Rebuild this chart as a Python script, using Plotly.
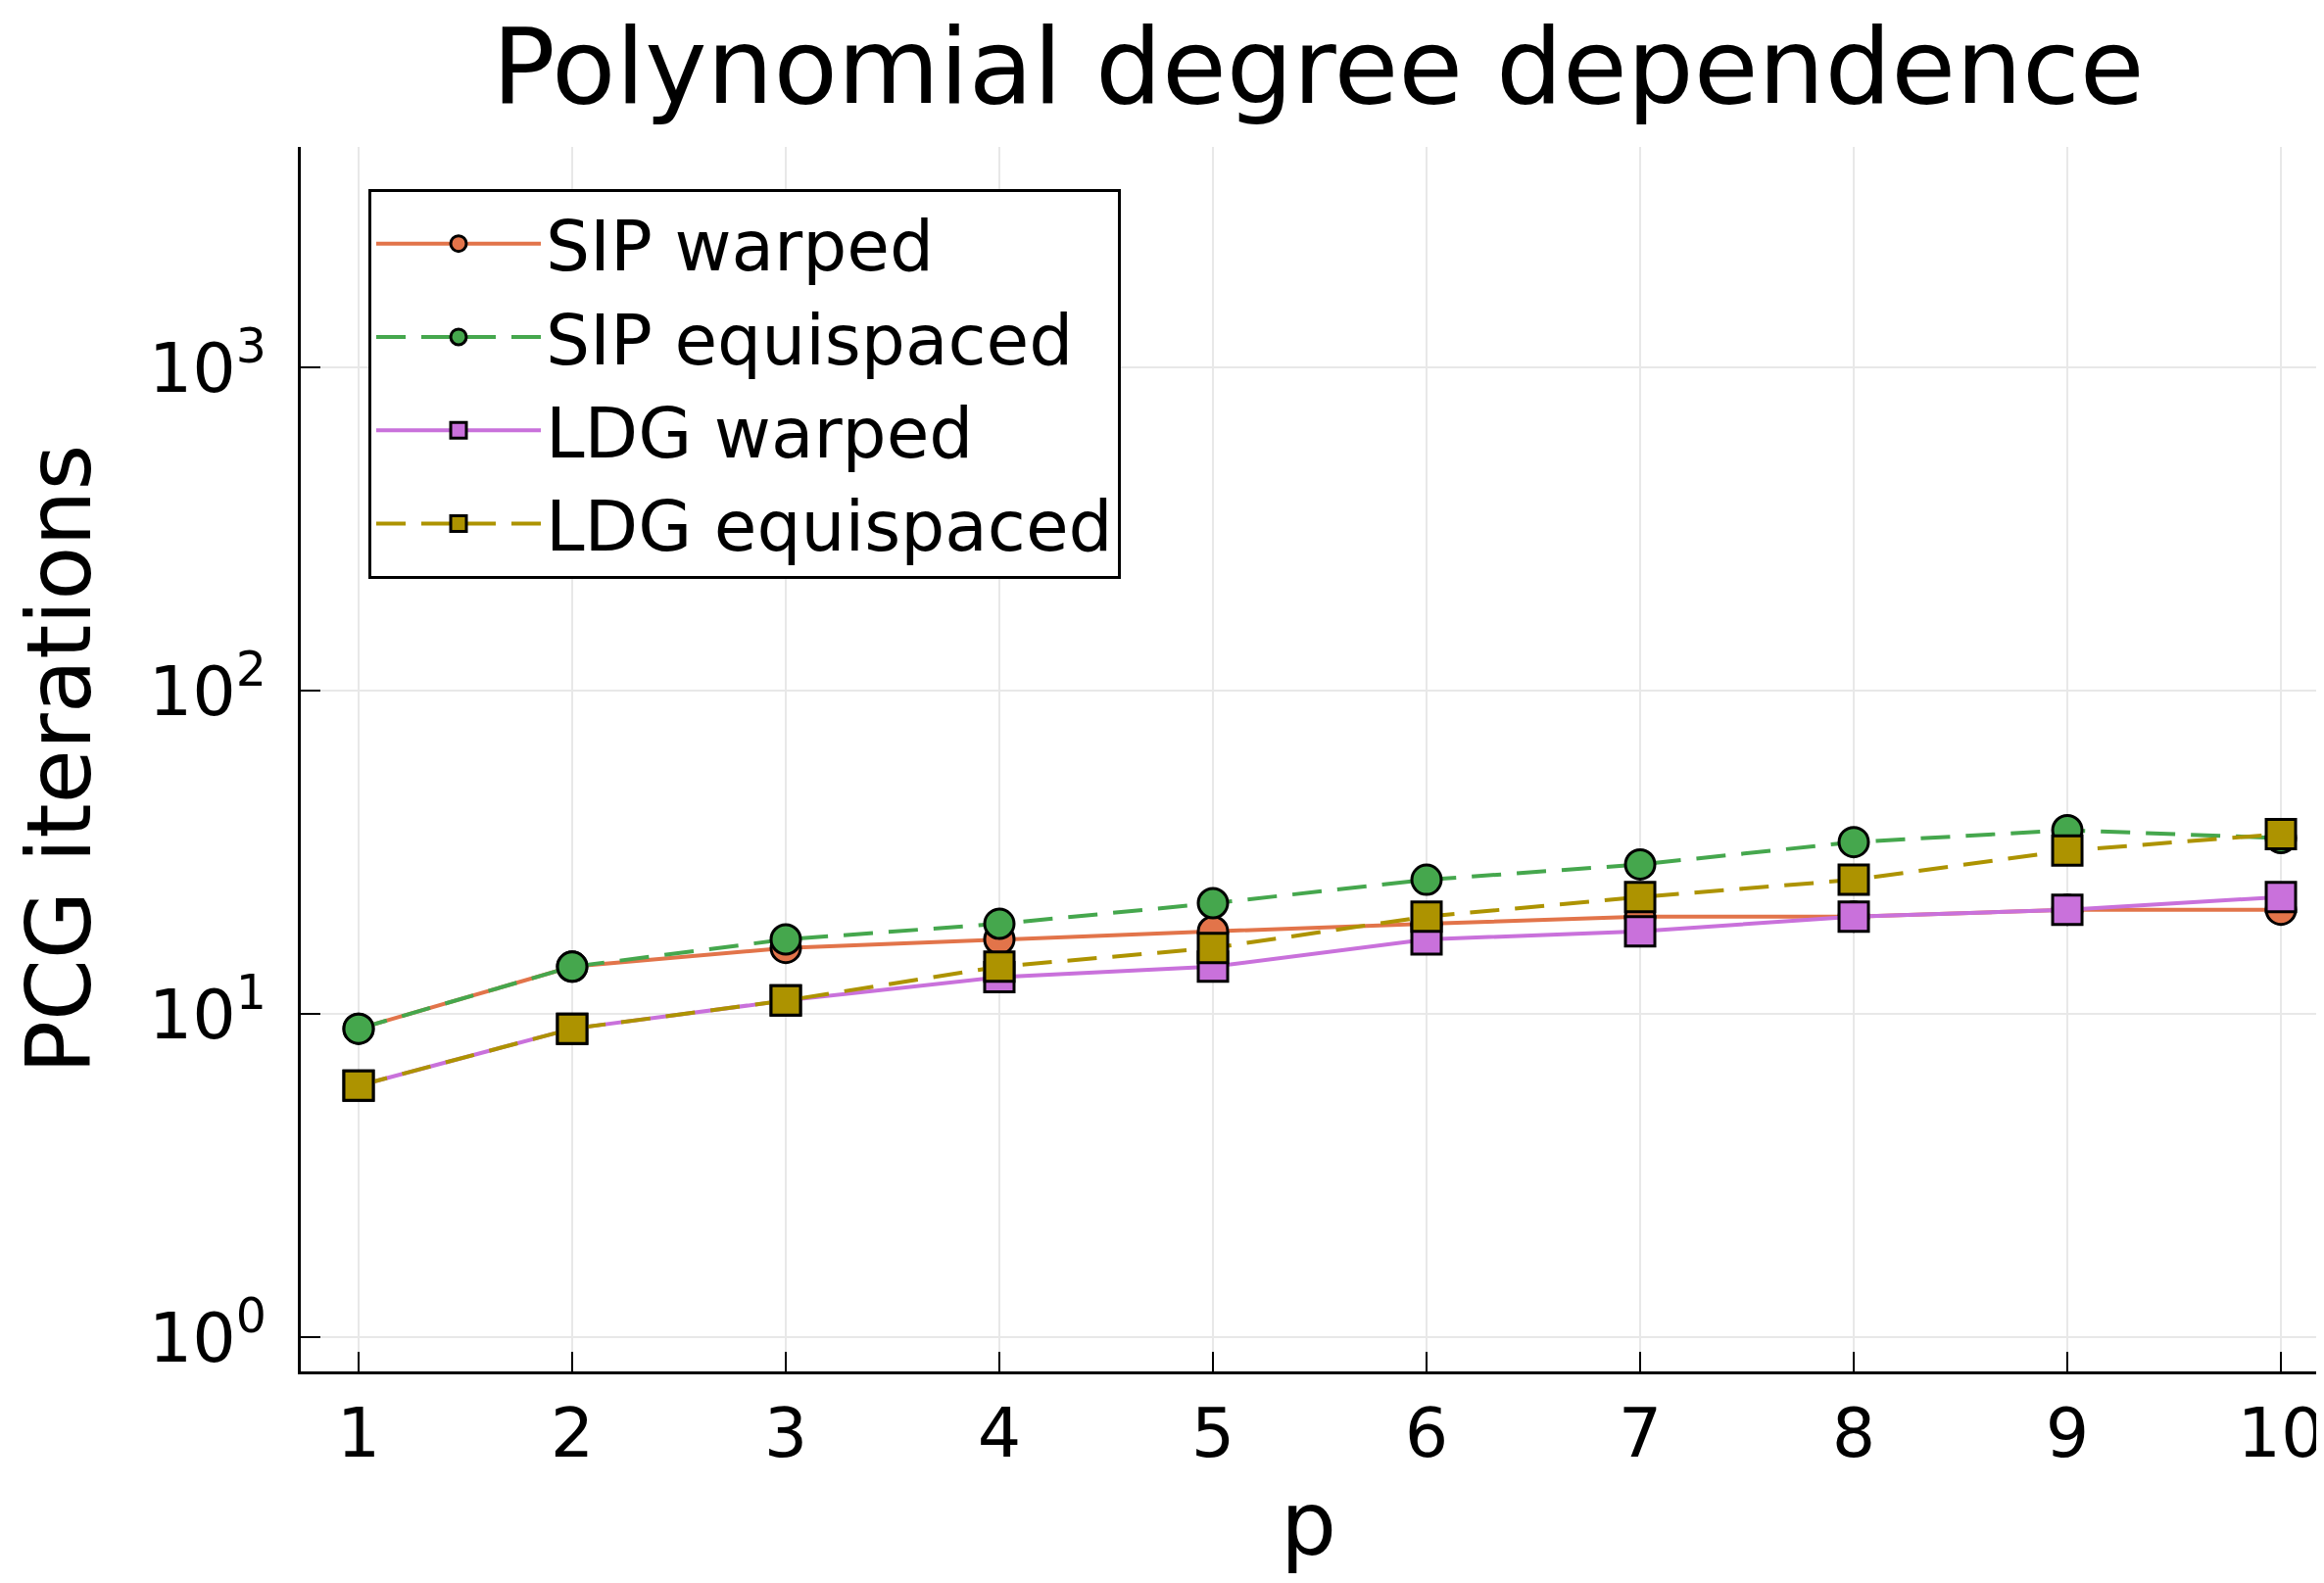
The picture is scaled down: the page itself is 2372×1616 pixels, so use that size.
import plotly.graph_objects as go

p = [1, 2, 3, 4, 5, 6, 7, 8, 9, 10]
sip_warped = [9, 14, 16, 17, 18, 19, 20, 20, 21, 21]
sip_equi = [9, 14, 17, 19, 22, 26, 29, 34, 37, 35]
ldg_warped = [6, 9, 11, 13, 14, 17, 18, 20, 21, 23]
ldg_equi = [6, 9, 11, 14, 16, 20, 23, 26, 32, 36]
y_tickvals = [1, 10, 100, 1000]
y_ticktext = ["10<sup>0</sup>", "10<sup>1</sup>", "10<sup>2</sup>", "10<sup>3</sup>"]

names = ["SIP warped", "SIP equispaced", "LDG warped", "LDG equispaced"]
colors = ["#E2744A", "#45A74D", "#C971DB", "#AD9300"]
symbols = ["circle", "circle", "square", "square"]
dashes = ["solid", "30px,16px", "solid", "30px,16px"]
series = [sip_warped, sip_equi, ldg_warped, ldg_equi]

W, H = 2356, 1600
L, R, T, B = 299, 0, 142, 208
FONT = "DejaVu Sans"
PW = W - L - R

fig = go.Figure()
for name, ys, c, s, d in zip(names, series, colors, symbols, dashes):
    fig.add_trace(go.Scatter(
        x=p, y=ys, name=name, mode="lines+markers",
        line=dict(color=c, width=4, dash=d),
        marker=dict(symbol=s, size=30, color=c, line=dict(color="black", width=3)),
    ))

fig.update_layout(
    width=W, height=H,
    margin=dict(l=L, r=R, t=T, b=B, autoexpand=False),
    paper_bgcolor="white", plot_bgcolor="white",
    font=dict(family=FONT, color="black", size=70),
    title=dict(text="Polynomial degree dependence", x=0.5 + 10 / PW, xref="paper",
               y=1 - 60 / H, yref="container", yanchor="middle", xanchor="center",
               font=dict(size=107, family=FONT)),
    showlegend=True,
    legend=dict(x=(368 - L) / PW, y=(H - B - 185) / (H - T - B),
                xanchor="left", yanchor="top",
                bgcolor="white", bordercolor="black", borderwidth=3,
                font=dict(size=71, family=FONT), itemsizing="trace",
                itemwidth=168, tracegroupgap=0),
    xaxis=dict(range=[0.7294, 10.165], tickmode="array", tickvals=p,
               ticktext=[str(v) for v in p],
               showgrid=True, gridcolor="#E8E8E8", gridwidth=2,
               showline=True, linecolor="black", linewidth=3,
               ticks="inside", ticklen=20, tickwidth=2, tickcolor="black",
               ticklabelstandoff=0, ticklabeloverflow="allow",
               zeroline=False, mirror=False,
               tickfont=dict(size=70, family=FONT),
               title=dict(text="p", font=dict(size=90, family=FONT), standoff=42)),
    yaxis=dict(type="log", range=[-0.106, 3.682],
               tickmode="array", tickvals=y_tickvals, ticktext=y_ticktext,
               showgrid=True, gridcolor="#E8E8E8", gridwidth=2,
               showline=True, linecolor="black", linewidth=3,
               ticks="inside", ticklen=20, tickwidth=2, tickcolor="black",
               ticklabelstandoff=18,
               zeroline=False, mirror=False,
               tickfont=dict(size=70, family=FONT),
               title=dict(text="PCG iterations", font=dict(size=90, family=FONT), standoff=34)),
)

fig.write_html("out.html")
